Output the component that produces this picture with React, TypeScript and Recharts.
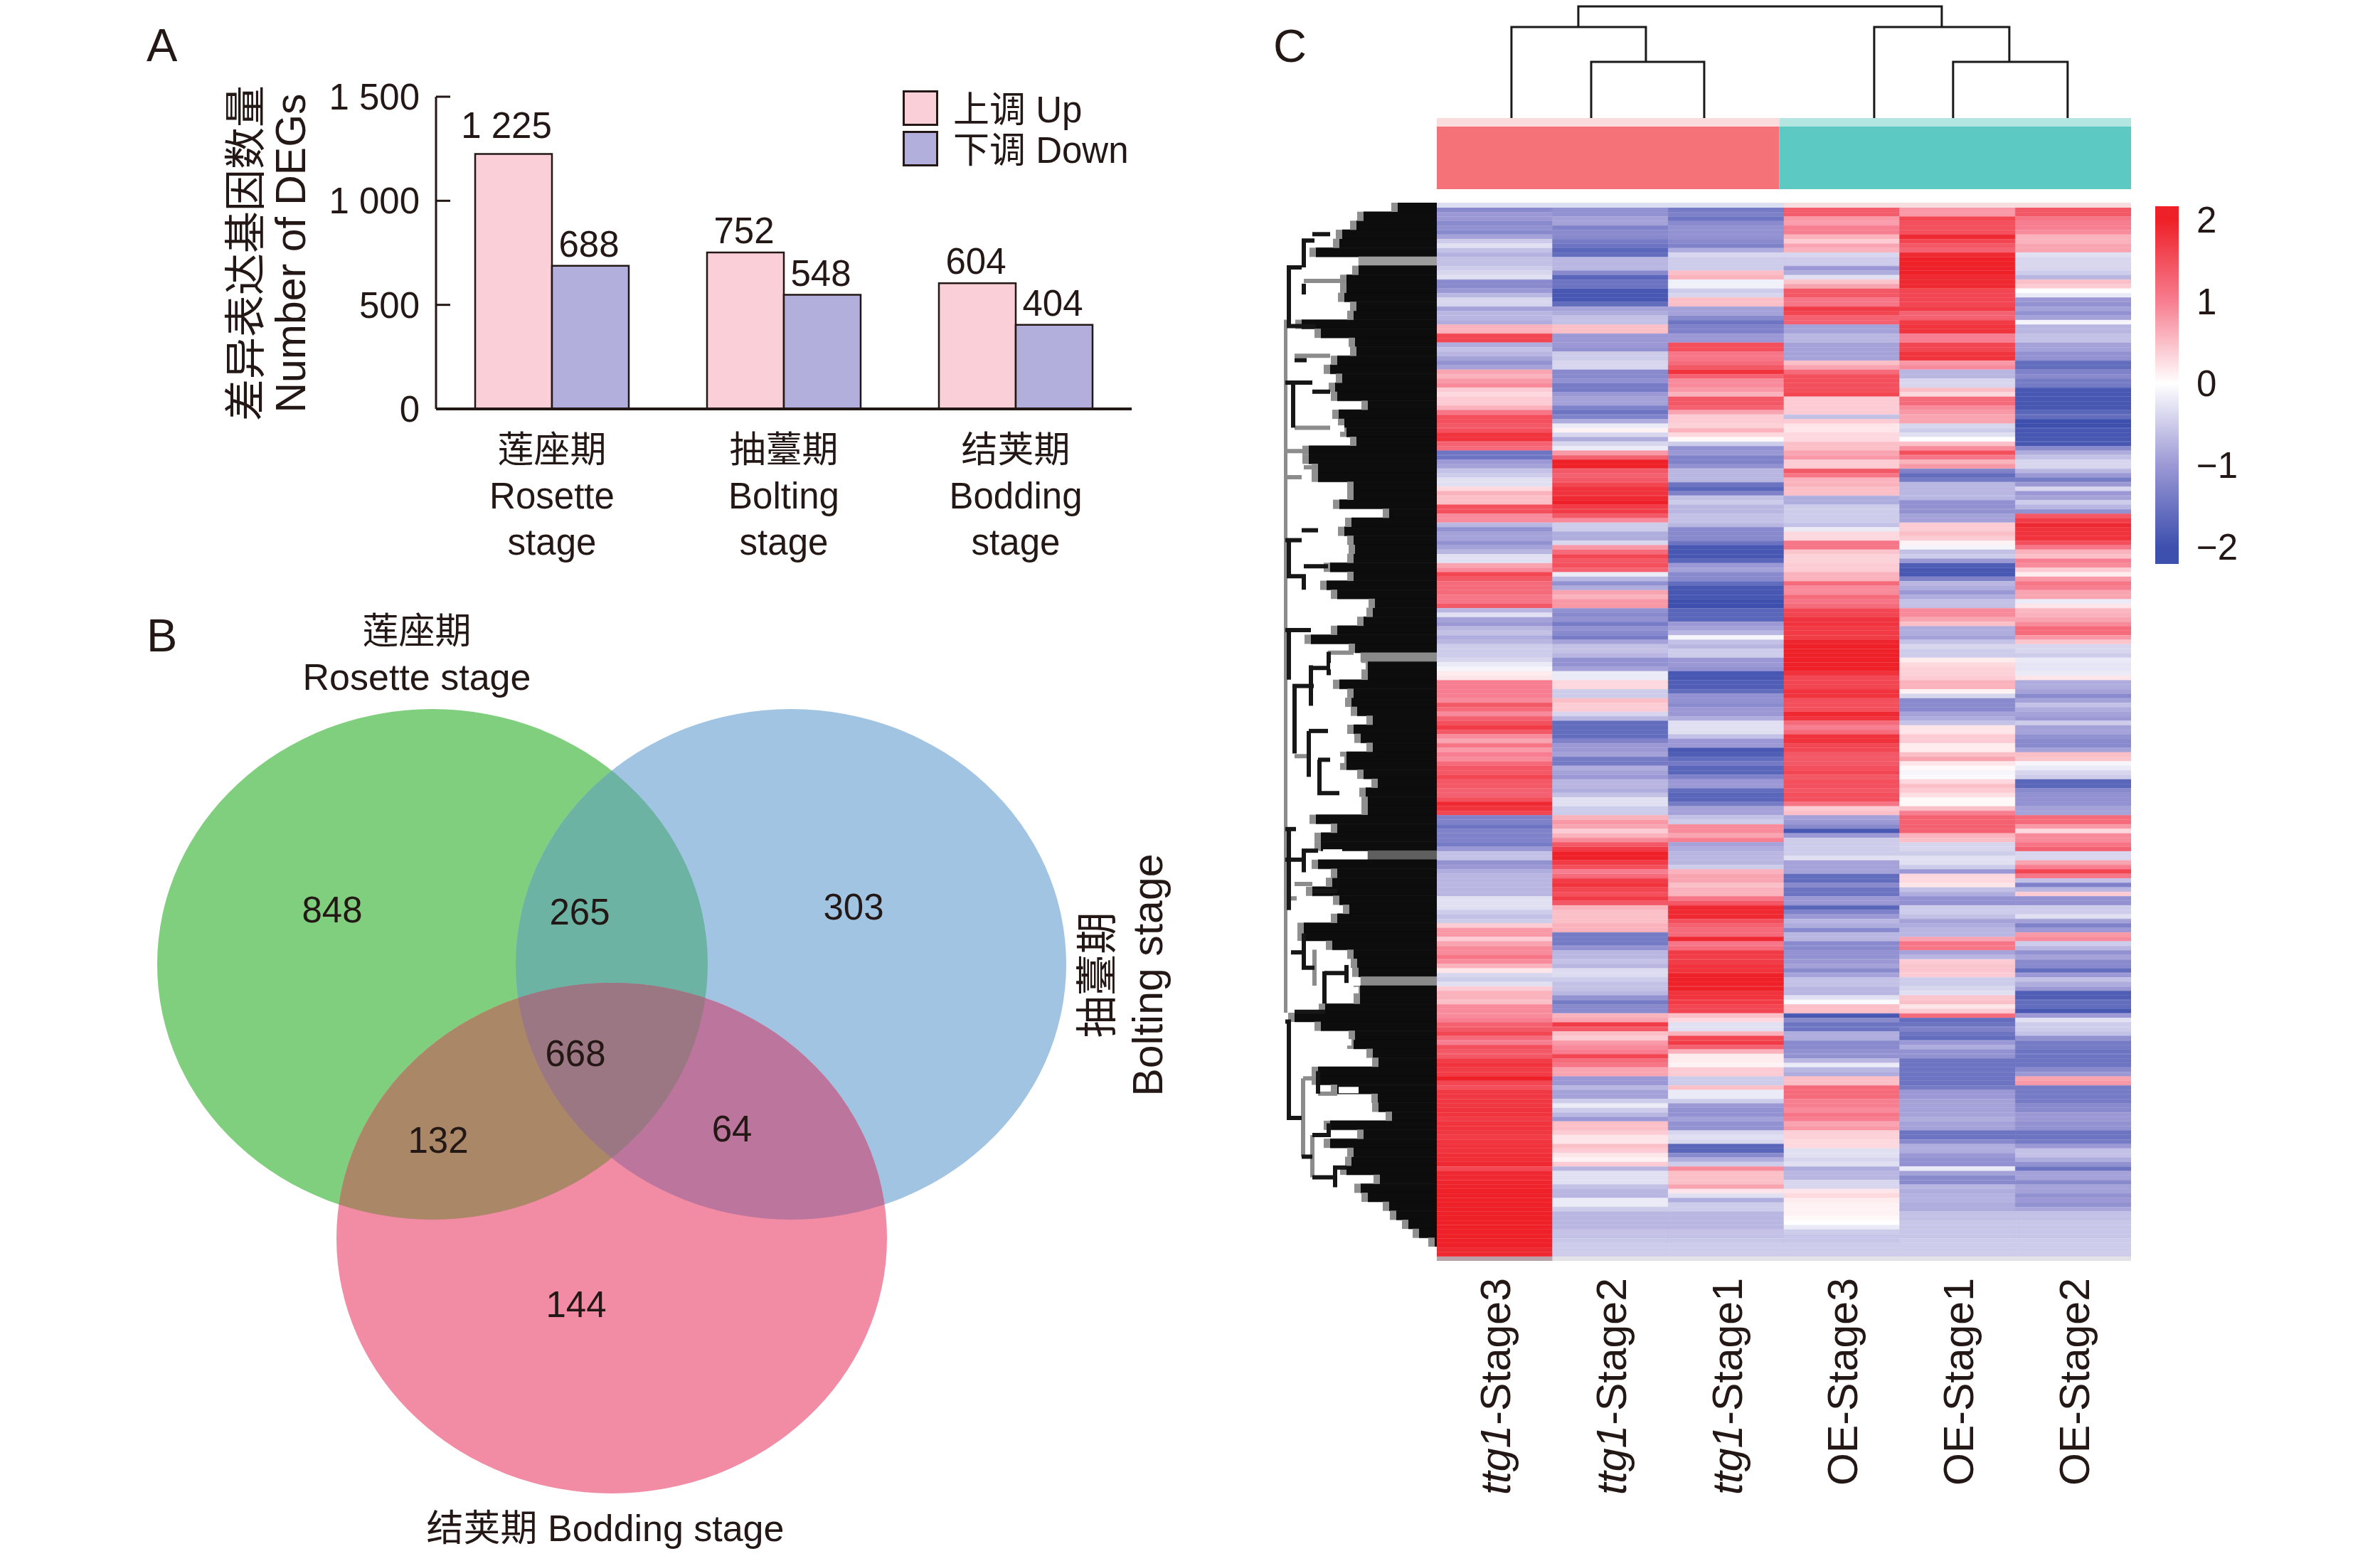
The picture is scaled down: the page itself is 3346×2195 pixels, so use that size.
import React from 'react';
import {
  BarChart, Bar, XAxis, YAxis, Cell, LabelList, Legend, ScatterChart, Scatter,
} from 'recharts';

const INK = '#231815';
const FONT = "'Liberation Sans','Noto Sans CJK SC',sans-serif";

// ---------- Panel A ----------
const stageCN = ['莲座期', '抽薹期', '结荚期'];
const stageEN = ['Rosette', 'Bolting', 'Bodding'];
const upValues = [1225, 752, 604];
const downValues = [688, 548, 404];
const yTicksA = [0, 500, 1000, 1500];
const legendNames = ['上调 Up', '下调 Down'];

// ---------- Panel B ----------
const vennSets = [
  { name: 'Rosette', x: 608, y: 506, fill: '#80CF7E' },
  { name: 'Bolting', x: 1112, y: 506, fill: '#A0C4E2' },
  { name: 'Bodding', x: 860, y: 891, fill: '#F18CA4' },
];
const vennOverlaps = [
  { x: 1112, y: 506, clips: [0], fill: '#6DB3A4' },
  { x: 860, y: 891, clips: [0], fill: '#AA8767' },
  { x: 860, y: 891, clips: [1], fill: '#BC759C' },
  { x: 860, y: 891, clips: [0, 1], fill: '#9A7782' },
];
const vennCounts = [
  { x: 467, y: 429, n: 848 },
  { x: 815, y: 432, n: 265 },
  { x: 1200, y: 425, n: 303 },
  { x: 809, y: 631, n: 668 },
  { x: 616, y: 753, n: 132 },
  { x: 1029, y: 737, n: 64 },
  { x: 810, y: 984, n: 144 },
];

// ---------- Panel C: column tree ----------
const colTree = [
  [{ x: 0.645, h: 0 }, { x: 0.645, h: 128 }, { x: 1.807, h: 128 }, { x: 1.807, h: 79 }],
  [{ x: 1.334, h: 0 }, { x: 1.334, h: 79 }, { x: 2.311, h: 79 }, { x: 2.311, h: 0 }],
  [{ x: 3.78, h: 0 }, { x: 3.78, h: 128 }, { x: 4.948, h: 128 }, { x: 4.948, h: 79 }],
  [{ x: 4.462, h: 0 }, { x: 4.462, h: 79 }, { x: 5.452, h: 79 }, { x: 5.452, h: 0 }],
  [{ x: 1.223, h: 128 }, { x: 1.223, h: 157 }, { x: 4.364, h: 157 }, { x: 4.364, h: 128 }],
];

// ---------- Panel C: row tree ----------
const rowDepth = [
  55, 103, 113, 133, 137, 170, 110, 110, 127, 127, 130, 113, 117, 190, 163, 115, 113, 140, 150, 133,
  143, 140, 97, 138, 130, 127, 113, 180, 180, 167, 167, 117, 117, 137, 67, 120, 130, 117, 115, 117,
  150, 117, 155, 140, 87, 90, 103, 140, 177, 115, 107, 97, 97, 137, 117, 120, 112, 90, 117, 107,
  90, 127, 127, 103, 83, 100, 97, 97, 170, 140, 163, 163, 97, 167, 140, 147, 175, 137, 123, 140,
  187, 187, 147, 117, 112, 110, 107, 108, 108, 157, 200, 163, 115, 117, 90, 82, 167, 167, 140, 83,
  82, 63, 150, 103, 150, 117, 120, 127, 80, 107, 97, 67, 57, 40, 25, 3,
];
const greyRows = [6, 50, 72, 86];
const greyTone = ['#9c9c9c', '#8a8a8a', '#5f5f5f', '#8a8a8a'];
const treeGrey = [
  [[213, 13], [213, 90]],
  [[210, 27.6], [180, 27.6]],
  [[210, 30.5], [190, 30.5]],
  [[187, 8.7], [127, 8.7]],
  [[200, 25], [150, 25]],
  [[200, 17], [150, 17]],
  [[153, 50], [117, 50]],
  [[200, 61.5], [183, 61.5]],
  [[200, 75.7], [175, 75.7]],
  [[172, 83], [172, 87]],
  [[188, 97.3], [188, 106]],
  [[188, 97.3], [167, 97.3]],
  [[167, 99], [140, 99]],
  [[175, 103.6], [175, 108.3]],
  [[213, 77.3], [197, 77.3]],
  [[187, 29.4], [167, 29.4]],
];
const treeDark = [
  [[190, 7.2], [208, 7.2], [208, 13.7], [170, 13.7]],
  [[187, 7.2], [187, 4.2], [172, 4.2]],
  [[175, 3.5], [150, 3.5]],
  [[187, 9], [187, 10.2]],
  [[202, 20.2], [202, 25]],
  [[213, 20], [175, 20]],
  [[200, 17.5], [183, 17.5]],
  [[175, 21], [150, 21]],
  [[190, 36.4], [167, 36.4]],
  [[213, 37.5], [190, 37.5]],
  [[208, 37.5], [208, 41.5], [187, 41.5], [187, 43]],
  [[187, 40.4], [153, 40.4]],
  [[213, 47.5], [177, 47.5]],
  [[208, 47.5], [208, 53]],
  [[203, 53.7], [173, 53.7]],
  [[200, 53.9], [200, 61.2]],
  [[177, 51.4], [177, 55.9]],
  [[175, 51.7], [153, 51.7]],
  [[152, 49.9], [152, 52.5]],
  [[180, 58.7], [180, 63.8]],
  [[180, 58.7], [153, 58.7]],
  [[167, 61.9], [150, 61.9]],
  [[165, 61.9], [165, 65.6], [137, 65.6]],
  [[213, 69.6], [198, 69.6]],
  [[208, 69.6], [208, 78.6]],
  [[213, 73], [187, 73]],
  [[190, 72], [167, 72]],
  [[187, 72], [187, 74.4]],
  [[175, 76.5], [140, 76.5]],
  [[205, 83.3], [187, 83.3]],
  [[187, 81.2], [187, 85], [172, 85]],
  [[158, 85.4], [158, 89]],
  [[158, 85.6], [127, 85.6]],
  [[127, 84.7], [127, 86.7]],
  [[200, 89.9], [157, 89.9]],
  [[213, 91], [208, 91], [208, 101.7], [190, 101.7]],
  [[167, 96.5], [167, 99]],
  [[190, 106], [175, 106]],
  [[175, 103.6], [152, 103.6], [152, 102.3]],
  [[175, 108.3], [143, 108.3], [143, 107.2], [127, 107.2]],
  [[143, 107.2], [143, 109.4]],
];
const treeHoles = [
  [[170, 4.5], [153, 4.5]],
  [[170, 20], [153, 20]],
  [[147, 25.1], [130, 25.1]],
  [[150, 51.5], [100, 51.5]],
  [[148, 61.9], [130, 61.9]],
  [[160, 72.2], [133, 72.2]],
  [[155, 87.5], [110, 87.5]],
  [[145, 93.3], [120, 93.3]],
  [[138, 98.6], [110, 98.6]],
  [[140, 108.7], [120, 108.7]],
];

// ---------- Panel C: heat map values ----------
const heatLabels = ['ttg1|-Stage3', 'ttg1|-Stage2', 'ttg1|-Stage1', '|OE-Stage3', '|OE-Stage1', '|OE-Stage2'];
const c1a = [-1.2,-1.0,-1.0,-1.2,-1.1,-1.2,-0.9,-0.5,-0.3,-0.6,-0.75,-0.6,-0.6,-0.5,-0.4,-0.3,-1.2,-1.2,-1.0,-0.7,-0.4,-0.4,-0.9,-0.7,-0.7,-0.8,0.6,0.6,1.6,1.6,-0.8,-0.6,-0.7,-0.9,-1.1,-0.9,0.7,0.6,0.8,0.9,0.4,0.3,0.4,0.4,0.6,1.1,1.5,1.5,1.4,1.5,1.8,1.8,1.3,1.2,-1.5,-1.5,-1.0,-0.9,-0.6,-0.5,-0.3,-0.3,0.3,0.6,0.5,0.5,1.5,1.5,0.9,0.9,-0.7,-1.1,-0.9,-0.9,-1.1,-0.9];
const c1b = [-0.7,-0.3,-0.3,0.7,0.9,1.6,1.4,1.2,1.2,1.2,1.1,1.1,1.4,-0.7,-0.3,-0.9,-1.0,-0.7,-0.6,-0.8,-0.7,-0.5,-0.5,-0.5,-0.4,-0.2,-0.1,0.15,0.2,1.0,1.0,1.0,1.0,0.9,1.4,1.2,0.9,1.3,1.5,1.7,1.4,0.9,0.7,1.1,0.8,1.0,0.9,1.2,1.4,1.4,1.6,1.4,1.4,1.3,1.3,1.5,1.9,1.8,1.6,-1.3,-1.3,-1.5,-1.3,-1.3,-1.3,-1.4,-1.0,-0.6,-0.6,-1.1,-1.0,-0.8,-0.7,-0.7,-0.7,-0.7,-0.7,-0.3,-0.3];
const c1c = [-0.3,-0.5,-0.6,-0.5,0.4,0.8,0.8,0.4,0.7,0.9,0.9,1.1,0.9,0.6,0.2,-0.4,-0.5,-0.3,0.4,0.6,0.6,0.5,0.9,0.9,0.9,1.0,1.3,1.4,1.6,1.2,1.0,1.5,1.4,1.4,1.7,1.8,1.7,1.7,2.0,1.6,1.5,1.75,1.75,1.75,1.75,1.8,1.8,1.7,1.8,1.8,1.75,1.7,1.8,1.8,1.8,1.85,1.85,1.9,1.6,1.9,1.9,1.95,1.95,2,2,2,2,2,2,2,2,2,2,2,2,2,1.9,1.9];
const c2a = [-1.1,-1.1,-0.9,-0.9,-1.3,-1.2,-1.2,-1.4,-1.5,-1.7,-1.6,-0.7,-0.7,-0.7,-1.2,-1.7,-1.5,-1.5,-1.9,-1.9,-1.9,-1.6,-0.9,-0.8,-0.6,-0.6,0.5,0.5,-1.0,-1.0,-1.0,-1.1,-0.5,-0.5,-0.4,-0.4,-1.2,-1.2,-1.1,-1.4,-1.4,-1.0,-0.9,-0.9,-1.3,-1.5,-1.3,-0.8,-0.2,0.1,-0.4,-0.8,-0.4,-0.2,0.8,1.3,2.0,2.0,1.4,1.3,1.4,1.6,1.8,1.8,1.9,2.0,1.7,1.7,1.4,0.9,-0.5,-0.5,-0.8,-0.8,-0.4,0.8];
const c2b = [1.2,1.6,1.4,1.5,1.3,-0.2,-0.7,-1.1,-0.8,0.7,0.6,0.8,0.8,-1.1,-1.2,-1.1,-1.4,-1.1,-1.2,-1.4,-0.9,-0.6,-0.6,-0.7,-1.1,-1.1,-0.9,-0.2,-0.2,0.3,0.3,-0.5,-0.5,0.5,0.4,0.4,-0.4,-0.7,-1.6,-1.6,-1.6,-1.6,-1.3,-1.0,-1.0,-0.9,-1.4,-1.4,-0.8,-0.9,-1.0,-0.7,-0.7,-0.8,-0.6,-0.3,-0.3,-0.5,-0.5,0.6,0.8,0.7,0.4,0.6,0.9,1.4,1.7,2.0,2.0,1.7,1.5,1.0,1.2,1.7,1.8,1.6,1.5,1.7,1.4];
const c2c = [0.6,0.5,0.5,0.5,0.6,0.6,-1.4,-1.4,-1.4,-1.1,-0.7,-0.7,-0.6,-0.7,-0.35,-0.35,-0.5,-0.6,-0.6,-0.7,-1.1,-1.4,-1.2,-1.2,0.6,0.7,1.7,1.4,0.5,0.4,0.8,0.9,1.0,1.6,1.2,1.1,0.7,0.7,-1.0,-1.0,-0.7,-0.9,-0.9,-0.5,-0.2,-0.5,-0.7,-1.0,0.5,0.5,0.4,0.2,0.2,0.5,0.4,0.2,0.1,0.4,-0.7,-0.3,-0.3,-0.3,-0.6,-0.7,-0.7,-0.2,-0.2,-0.5,-0.7,-0.7,-0.7,-0.7,-0.6,-0.6,-0.55,-0.5,-0.5,-0.5];
const c3a = [-1.4,-1.3,-1.5,-1.2,-1.1,-1.1,-1.1,-1.2,-1.3,-0.8,-0.4,-0.5,-0.5,-0.5,0.5,0.6,-0.15,-0.15,-0.5,-0.4,0.5,0.5,-0.9,-0.9,-1.2,-1.5,-1.3,-1.3,-1.0,-1.0,1.5,1.5,1.1,1.1,1.2,1.4,1.8,1.3,0.9,0.9,0.8,0.6,1.4,1.4,1.3,0.7,0.4,0.4,0.35,0.6,0.3,0.05,-0.5,-1.1,-1.0,-1.3,-1.3,-1.1,-0.7,-0.7,-0.7,-1.5,-1.7,-1.3,-0.6,-0.5,-0.7,-0.7,-0.6,-0.6,-0.7,-1.2,-1.2,-1.2,-1.5,-1.9];
const c3b = [-1.9,-1.9,-1.7,-1.0,-0.9,-1.2,-1.2,-1.6,-1.9,-1.9,-1.9,-2.0,-2.0,-1.7,-1.7,-1.7,-1.0,-0.9,-0.7,-0.1,-0.6,-0.7,-0.5,-0.5,-1.0,-1.0,-1.1,-1.9,-1.9,-1.8,-1.8,-1.6,-1.1,-1.1,-1.2,-1.0,-1.0,-0.8,-0.3,-0.3,-0.3,-0.6,-1.0,-1.0,-1.9,-1.8,-1.6,-1.4,-1.7,-1.7,-1.3,-1.0,-1.0,-1.6,-1.7,-1.7,-1.4,-0.9,-0.9,-0.6,-0.5,0.9,0.9,0.7,1.0,-0.9,-0.8,-0.7,-0.7,-0.7,-0.5,0.6,0.7,0.7,0.5,0.6,0.6,1.1,1.4];
const c3c = [1.9,1.9,1.9,1.5,1.3,1.2,1.2,1.9,1.1,1.2,1.7,1.7,1.7,1.8,1.8,2,2,2,2,1.8,1.8,1.7,1.6,1.6,0.5,0.3,-0.3,-0.3,0.6,1.6,1.7,1.3,0.6,0.15,0.15,0.1,0.4,0.4,-0.5,-0.5,0.5,-0.2,-0.2,-0.5,-1.0,-1.1,-1.1,-0.9,-1.1,-1.1,-0.4,-0.3,-0.4,-1.7,-1.7,-1.2,-0.8,-0.5,0.9,0.5,0.5,0.5,0.7,0.2,-0.3,-0.8,-0.5,-0.5,-0.7,-0.7,-0.7,-0.7,-0.6,-0.6,-0.55,-0.5,-0.5,-0.5];
const c4a = [1.35,1.35,0.8,0.75,1.0,1.0,0.6,0.4,0.7,0.6,-0.4,-0.5,-0.5,-1.0,-0.8,-0.3,0.45,0.7,1.4,1.4,1.1,1.1,1.7,1.6,1.3,1.3,-0.9,-0.9,-0.7,-0.7,-0.9,-0.9,-0.9,-0.9,0.5,0.7,1.2,1.5,1.5,1.5,1.5,1.6,0.4,0.4,0.4,0.4,-0.6,0.4,0.2,0.2,0.3,0.3,0.5,0.5,0.7,0.8,0.4,0.4,1.4,1.1,0.6,0.6,0.5,0.5,-0.8,-0.8,-0.5,-0.5,-0.5,-0.5,-0.6,-0.2,0.3,0.3,1.1,1.1];
const c4b = [0.45,0.35,0.35,0.4,0.4,0.6,0.6,1.2,0.9,0.9,1.2,1.1,1.2,1.6,1.6,1.8,1.8,1.7,1.7,1.7,1.95,2,2,2,2,2,2,1.8,1.6,1.6,1.6,1.8,1.8,1.5,1.5,1.5,1.9,1.8,1.2,1.0,1.2,1.8,1.8,1.6,1.6,1.4,1.4,1.4,1.5,1.6,1.4,1.5,1.5,1.4,1.5,1.5,1.1,0.4,0.5,-0.9,-1.0,-1.2,-1.9,-1.0,-0.5,-0.5,-0.5,-0.5,-0.3,-0.9,-0.9,-0.9,-1.6,-1.6,-1.2,-1.5,-1.5,-1.0,-1.0];
const c4c = [-1.7,-1.3,-1.0,-0.7,-0.8,-1.2,-0.7,-0.7,-1.2,-1.2,-1.1,-1.1,-1.0,-0.9,-1.2,-0.9,-0.6,-0.6,-0.7,-0.7,-0.3,-0.05,0.5,0.5,-1.9,-1.2,-1.5,-1.5,-0.8,-0.8,-1.2,-1.2,-1.1,-1.1,-0.7,-0.2,-0.7,-0.8,0.5,0.5,1.2,1.2,1.2,1.0,1.0,0.9,1.1,1.0,0.7,0.8,0.35,0.35,0.3,0.3,-0.3,-0.3,-0.4,-0.3,-0.8,-0.7,-0.7,-0.4,-0.4,0.2,0.3,0.15,0.1,0.1,0.1,0.05,0,-0.2,-0.5,-0.55,-0.55,-0.5,-0.5,-0.5];
const c5a = [0.8,0.8,1.6,1.5,1.5,1.5,1.9,1.6,1.4,1.3,1.9,2,2,2,2,1.9,1.9,1.9,1.6,1.6,1.6,1.6,1.7,1.3,1.3,1.7,1.8,1.8,1.0,1.0,1.6,1.6,1.8,1.8,0.8,0.9,-0.7,-0.7,-0.4,-0.4,0.5,0.3,1.2,1.2,0.9,0.8,0.7,0.7,-0.4,-0.5,-0.3,0,0.5,0.9,1.5,1.1,0.6,0.8,-1.3,-1.6,-1.4,-0.7,-0.7,-0.7,-0.7,-1.1,-1.1,-1.1,-0.9,-0.9,0.4,0.4,0.5,0.4,0.1,-0.1];
const c5b = [-0.6,-0.5,-1.0,-1.8,-1.9,-1.9,-1.3,-0.7,-0.8,-1.0,-0.8,-0.6,-0.6,0.9,0.9,0.7,0.5,-0.8,-0.8,-0.9,-0.6,-0.4,-0.5,-0.5,0.15,0.3,0.35,0.35,0.4,0.6,0.6,0.1,-0.4,-1.2,-1.2,-1.2,-0.9,-0.8,-0.6,0.2,0.2,0.4,0.4,0.15,0.15,0.5,0.7,0.2,0.05,-0.1,-0.05,0.3,0.5,0.4,0.25,0.05,0.05,0.5,1.0,1.3,1.3,1.3,1.3,0.6,0.5,-0.4,-0.4,-0.5,-0.3,-0.3,-0.5,-1.0,0.3,0.3,0.2,-0.6,-0.8,-1.1,-1.1];
const c5c = [-0.5,-0.5,-0.6,-0.9,-0.8,-0.7,-0.7,0.7,1.1,1.1,-0.9,-0.7,0.4,0.45,0.45,0.4,-0.5,-0.5,-0.4,-0.3,0.45,0.5,0.2,0.4,1.2,-1.6,-1.5,-1.3,-1.5,-1.6,-1.0,-0.8,-1.1,-1.1,-1.5,-1.5,-1.5,-1.5,-1.5,-1.5,-1.4,-1.0,-1.0,-0.9,-0.9,-0.9,-0.9,-0.8,-0.9,-0.9,-1.5,-1.5,-1.2,-0.8,-0.8,-1.0,-1.1,-1.1,-0.2,-0.9,-1.2,-1.2,-0.7,-0.8,-0.75,-0.75,-0.8,-0.8,-0.6,-0.6,-0.55,-0.55,-0.55,-0.55,-0.5,-0.5,-0.5,-0.5];
const c6a = [1.4,1.4,1.1,1.0,1.0,0.9,0.6,0.6,0.7,0.7,-0.3,-0.4,-0.4,-0.4,-0.5,-0.7,0.5,0.4,0,-0.2,-1.0,-1.1,-0.9,-1.1,-0.9,-0.1,-0.7,-0.7,-0.6,-0.6,-0.9,-0.9,-1.1,-1.1,-1.6,-1.6,-1.3,-1.2,-1.4,-1.4,-1.9,-1.9,-1.9,-1.9,-1.9,-1.7,-1.6,-2.0,-2.0,-1.9,-1.9,-1.9,-1.9,-1.2,-0.8,-0.6,-0.4,-0.4,-0.7,-1.0,-1.4,-1.0,-0.4,-1.0,-0.9,-0.5,-0.7,-1.1,1.4,1.7,1.9,1.8,1.8,1.8,1.5,1.1];
const c6b = [0.6,0.5,1.0,0.9,0.4,0.15,0.8,1.1,1.0,0.7,0.7,-0.2,0.2,0.55,0.6,0.7,0.9,1.2,1.2,0.8,0.45,-0.4,-0.4,-0.5,-0.2,-0.25,-0.25,-0.2,0.2,-0.8,-0.8,-0.9,-1.2,-0.9,-0.6,-0.8,-0.9,-1.0,-0.5,-0.9,-0.9,-1.1,-1.2,-1.2,-0.9,0.5,0.45,-0.1,-0.2,-0.4,-0.5,-1.7,-1.7,-1.2,-1.1,-1.1,-1.1,-0.9,-0.9,1.2,1.2,0.8,0.3,0.9,0.9,1.1,1.3,-0.4,-0.4,0.7,1.0,1.6,1.1,-0.6,-1.3,-0.7,0.4,-1.1,-1.1];
const c6c = [-0.5,-0.5,-0.3,-0.9,-1.3,-1.0,0.8,0.9,-0.5,-0.7,-1.1,-0.9,-1.2,-1.2,-1.6,-1.0,-0.6,-0.8,-1.0,-1.8,-1.8,-1.6,-1.6,-1.9,-1.0,-0.3,-0.5,-0.5,-0.6,-1.1,-1.4,-1.4,-1.5,-1.5,-1.5,-1.5,-1.2,-1.0,0.7,0.8,-1.4,-1.4,-1.4,-1.4,-1.2,-1.2,-1.0,-1.0,-1.1,-1.1,-1.5,-1.5,-1.4,-1.0,-0.6,-0.6,-0.8,-1.1,-1.5,-0.9,-0.9,-1.2,-0.9,-0.9,-1.1,-1.0,-1.1,-0.85,-0.6,-0.6,-0.55,-0.55,-0.55,-0.55,-0.5,-0.5,-0.5,-0.5];

const heatSections = [
  [c1a, c1b, c1c], [c2a, c2b, c2c], [c3a, c3b, c3c],
  [c4a, c4b, c4c], [c5a, c5b, c5c], [c6a, c6b, c6c],
];
const sectionRows = [76, 79, 78];

const fit = (arr: number[], n: number) =>
  Array.from({ length: n }, (_, i) => (i < arr.length ? arr[i] : arr[arr.length - 1]));
const heatColumns = heatSections.map((secs) => secs.flatMap((s, i) => fit(s, sectionRows[i])));
const heatRows = heatColumns[0].map((_, r) => {
  const row: any = { row: r };
  heatColumns.forEach((col, c) => {
    row['v' + c] = col[r];
    row['u' + c] = 1;
  });
  return row;
});

const scaleStops: [number, number[]][] = [
  [-2, [62, 80, 174]], [-1, [155, 152, 213]], [0, [255, 255, 255]], [1, [247, 126, 144]], [2, [238, 32, 40]],
];
const heatColor = (v: number) => {
  const x = Math.max(-2, Math.min(2, v));
  for (let i = 0; i < scaleStops.length - 1; i++) {
    const [a, ca] = scaleStops[i];
    const [b, cb] = scaleStops[i + 1];
    if (x <= b) {
      const t = (x - a) / (b - a);
      const m = ca.map((q, j) => Math.round(q + (cb[j] - q) * t));
      return `rgb(${m[0]},${m[1]},${m[2]})`;
    }
  }
  return 'rgb(238,32,40)';
};

const abs = (left: number, top: number): React.CSSProperties => ({ position: 'absolute', left, top });

// ---------- A renderers ----------
const dataA = stageEN.map((s, i) => ({ stage: s, up: upValues[i], down: downValues[i] }));
const fmtThousands = (v: number) =>
  v >= 1000 ? `${Math.floor(v / 1000)} ${String(v % 1000).padStart(3, '0')}` : String(v);

const StageTick = (p: any) => {
  const i = p.index;
  return (
    <g fontFamily={FONT} fontSize={51} fill={INK} textAnchor="middle">
      <text x={p.x} y={p.y + 75}>{stageCN[i]}</text>
      <text x={p.x} y={p.y + 140}>{stageEN[i]}</text>
      <text x={p.x} y={p.y + 205}>stage</text>
    </g>
  );
};
const ValueLabel = (p: any) => {
  const big = p.value >= 1000;
  return (
    <text
      x={p.x + p.width / 2 + (big ? -10 : -2)}
      y={p.y - (big ? 22 : 13)}
      textAnchor="middle"
      fontFamily={FONT}
      fontSize={51}
      fill={INK}
    >
      {fmtThousands(p.value)}
    </text>
  );
};
const LegendBox = (p: any) => (
  <div style={{ fontFamily: FONT, fontSize: 51, color: INK }}>
    {(p.payload || []).map((e: any, i: number) => (
      <div key={i} style={{ display: 'flex', alignItems: 'center', height: 57, whiteSpace: 'nowrap' }}>
        <span
          style={{
            display: 'inline-block', width: 50, height: 50, boxSizing: 'border-box',
            border: `3px solid ${INK}`, background: e.color, marginRight: 21,
          }}
        />
        <span style={{ position: 'relative', top: -2 }}>{e.value}</span>
      </div>
    ))}
  </div>
);

const PanelA = () => (
  <div style={abs(0, 0)}>
    <BarChart
      width={1700}
      height={850}
      data={dataA}
      barCategoryGap={55}
      barGap={0}
      margin={{ top: 136, right: 109, bottom: 55, left: 473 }}
    >
      <XAxis
        dataKey="stage"
        height={220}
        tick={<StageTick />}
        tickLine={false}
        tickSize={0}
        tickMargin={0}
        interval={0}
        axisLine={{ stroke: INK, strokeWidth: 4 }}
      />
      <YAxis
        type="number"
        width={140}
        domain={[0, 1500]}
        ticks={yTicksA}
        tickFormatter={fmtThousands}
        tickSize={-20}
        tickMargin={43}
        tick={{ fontFamily: FONT, fontSize: 51, fill: INK }}
        tickLine={{ stroke: INK, strokeWidth: 3 }}
        axisLine={{ stroke: INK, strokeWidth: 3 }}
      />
      <Legend
        layout="horizontal"
        align="center"
        verticalAlign="middle"
        content={<LegendBox />}
        wrapperStyle={{ left: 1269, top: 123, width: 420, bottom: 'auto' }}
      />
      <Bar dataKey="up" name={legendNames[0]} fill="#FBCFD8" stroke={INK} strokeWidth={2.5} isAnimationActive={false}>
        <LabelList dataKey="up" content={<ValueLabel />} />
      </Bar>
      <Bar dataKey="down" name={legendNames[1]} fill="#B3AFDD" stroke={INK} strokeWidth={2.5} isAnimationActive={false}>
        <LabelList dataKey="down" content={<ValueLabel />} />
      </Bar>
    </BarChart>
  </div>
);

// ---------- B renderers ----------
const RX = 387;
const RY = 359;
const SetShape = (p: any) => <ellipse cx={p.cx} cy={p.cy} rx={RX} ry={RY} fill={p.payload.fill} />;
const OverlapShape = (p: any) => {
  const { clips, fill, x, y } = p.payload;
  let node: any = <ellipse cx={p.cx} cy={p.cy} rx={RX} ry={RY} fill={fill} />;
  const id = `clip-${x}-${y}-${clips.join('')}`;
  clips.forEach((c: number, i: number) => {
    const s = vennSets[c];
    node = (
      <g clipPath={`url(#${id}-${i})`}>
        <clipPath id={`${id}-${i}`}>
          <ellipse cx={p.cx + s.x - x} cy={p.cy + s.y - y} rx={RX} ry={RY} />
        </clipPath>
        {node}
      </g>
    );
  });
  return node;
};
const CountShape = (p: any) => (
  <text x={p.cx} y={p.cy + 18} textAnchor="middle" fontFamily={FONT} fontSize={51} fill={INK}>
    {p.payload.n}
  </text>
);

const PanelB = () => (
  <div style={abs(0, 850)}>
    <ScatterChart width={1700} height={1345} margin={{ top: 0, right: 0, bottom: 0, left: 0 }}>
      <XAxis type="number" dataKey="x" domain={[0, 1700]} hide />
      <YAxis type="number" dataKey="y" domain={[0, 1345]} reversed hide />
      <Scatter data={vennSets} shape={<SetShape />} isAnimationActive={false} />
      <Scatter data={vennOverlaps} shape={<OverlapShape />} isAnimationActive={false} />
      <Scatter data={vennCounts} shape={<CountShape />} isAnimationActive={false} />
    </ScatterChart>
  </div>
);

// ---------- C renderers ----------
const Band = ({ top, height, left, right, split }: any) => (
  <div style={abs(2020, top)}>
    <BarChart
      width={976}
      height={height}
      data={[{ band: 'b', a: split, c: 6 - split }]}
      layout="vertical"
      barCategoryGap={0}
      margin={{ top: 0, right: 0, bottom: 0, left: 0 }}
    >
      <XAxis type="number" domain={[0, 6]} hide />
      <YAxis type="category" dataKey="band" hide />
      <Bar dataKey="a" stackId="s" fill={left} isAnimationActive={false} />
      <Bar dataKey="c" stackId="s" fill={right} isAnimationActive={false} />
    </BarChart>
  </div>
);

const None = () => <g />;

const ColTree = () => (
  <div style={abs(2020, 4)}>
    <ScatterChart width={976} height={167} margin={{ top: 5, right: 0, bottom: 5, left: 0 }}>
      <XAxis type="number" dataKey="x" domain={[0, 6]} hide />
      <YAxis type="number" dataKey="h" domain={[0, 157]} hide />
      {colTree.map((seg, i) => (
        <Scatter
          key={i}
          data={seg}
          line={{ stroke: '#1a1a1a', strokeWidth: 3 }}
          lineType="joint"
          shape={<None />}
          isAnimationActive={false}
        />
      ))}
    </ScatterChart>
  </div>
);

const depthRows = rowDepth.map((d, k) => ({ k, d, fringe: greyRows.includes(k) ? 0 : 9 }));
const toPts = (seg: number[][]) => seg.map(([d, k]) => ({ d, k }));
const treeLayers = [
  { segs: treeGrey, stroke: '#8c8c8c', w: 6 },
  { segs: treeDark, stroke: '#161616', w: 6 },
  { segs: treeHoles, stroke: '#ffffff', w: 9 },
];

const RowTree = () => (
  <>
    <div style={abs(1805, 285)}>
      <BarChart
        width={215}
        height={1468}
        data={depthRows}
        layout="vertical"
        barCategoryGap={0}
        margin={{ top: 0, right: 0, bottom: 0, left: 0 }}
      >
        <XAxis type="number" domain={[0, 215]} reversed hide />
        <YAxis type="category" dataKey="k" hide />
        <Bar dataKey="d" stackId="t" isAnimationActive={false}>
          {depthRows.map((r) => {
            const g = greyRows.indexOf(r.k);
            const c = g >= 0 ? greyTone[g] : '#0d0d0d';
            return <Cell key={r.k} fill={c} stroke={c} strokeWidth={0.5} />;
          })}
        </Bar>
        <Bar dataKey="fringe" stackId="t" fill="#8f8f8f" isAnimationActive={false} />
      </BarChart>
    </div>
    <div style={abs(1805, 285)}>
      <ScatterChart width={215} height={1468} margin={{ top: 0, right: 0, bottom: 0, left: 0 }}>
        <XAxis type="number" dataKey="d" domain={[0, 215]} reversed hide />
        <YAxis type="number" dataKey="k" domain={[0, 116]} reversed hide />
        {treeLayers.flatMap((layer, li) =>
          layer.segs.map((seg, i) => (
            <Scatter
              key={`${li}-${i}`}
              data={toPts(seg)}
              line={{ stroke: layer.stroke, strokeWidth: layer.w }}
              lineType="joint"
              shape={<None />}
              isAnimationActive={false}
            />
          )),
        )}
      </ScatterChart>
    </div>
  </>
);

const HeatTick = (p: any) => {
  const [it, rest] = heatLabels[p.index].split('|');
  const x = p.x + 22;
  const y = p.y + 30;
  return (
    <text transform={`rotate(-90 ${x} ${y})`} x={x} y={y} textAnchor="end" fontFamily={FONT} fontSize={59} fill={INK}>
      {it ? <tspan fontStyle="italic">{it}</tspan> : null}
      <tspan>{rest}</tspan>
    </text>
  );
};
const colCentres = heatLabels.map((_, i) => i + 0.5);

const Heat = () => (
  <div style={abs(2020, 292)}>
    <BarChart
      width={976}
      height={1840}
      data={heatRows}
      layout="vertical"
      barCategoryGap={0}
      margin={{ top: 0, right: 0, bottom: 0, left: 0 }}
    >
      <XAxis
        type="number"
        domain={[0, 6]}
        ticks={colCentres}
        interval={0}
        height={365}
        tick={<HeatTick />}
        tickLine={false}
        tickSize={0}
        tickMargin={0}
        axisLine={false}
      />
      <YAxis type="category" dataKey="row" hide />
      {heatColumns.map((col, c) => (
        <Bar key={c} dataKey={'u' + c} stackId="h" isAnimationActive={false}>
          {col.map((v, r) => {
            const f = heatColor(v);
            return <Cell key={r} fill={f} stroke={f} strokeWidth={0.6} />;
          })}
        </Bar>
      ))}
    </BarChart>
  </div>
);

const scaleRange = [{ name: 'scale', range: [-2.21, 2.165] }];
const scaleTicks = [2, 1, 0, -1, -2];
const ColorScale = () => (
  <div style={abs(3030, 240)}>
    <BarChart
      width={300}
      height={603}
      data={scaleRange}
      barCategoryGap={0}
      margin={{ top: 50, right: 0, bottom: 50, left: 0 }}
    >
      <defs>
        <linearGradient id="heatScale" x1="0" y1="0" x2="0" y2="1">
          {scaleTicks.map((t) => (
            <stop key={t} offset={(2.165 - t) / 4.375} stopColor={heatColor(t)} />
          ))}
        </linearGradient>
      </defs>
      <XAxis dataKey="name" hide />
      <YAxis
        type="number"
        orientation="right"
        width={267}
        domain={[-2.21, 2.165]}
        allowDataOverflow
        ticks={scaleTicks}
        interval={0}
        tickLine={false}
        axisLine={false}
        tickSize={0}
        tickMargin={25}
        tickFormatter={(v: number) => (v < 0 ? `−${-v}` : String(v))}
        tick={{ fontFamily: FONT, fontSize: 51, fill: INK }}
      />
      <Bar dataKey="range" fill="url(#heatScale)" isAnimationActive={false} />
    </BarChart>
  </div>
);

// ---------- overlay text ----------
const Rot = ({ x, y, size, children }: any) => (
  <text
    transform={`rotate(-90 ${x} ${y})`}
    x={x}
    y={y}
    textAnchor="middle"
    fontFamily={FONT}
    fontSize={size}
    fill={INK}
  >
    {children}
  </text>
);

const Overlay = () => (
  <svg width={3346} height={2195} style={{ ...abs(0, 0), pointerEvents: 'none' }} fontFamily={FONT} fill={INK}>
    <text x={206} y={86} fontSize={65}>A</text>
    <text x={206} y={916} fontSize={65}>B</text>
    <text x={1790} y={87} fontSize={65}>C</text>
    <Rot x={366} y={356} size={59}>差异表达基因数量</Rot>
    <Rot x={429} y={356} size={59}>Number of DEGs</Rot>
    <text x={586} y={905} fontSize={51} textAnchor="middle">莲座期</text>
    <text x={586} y={970} fontSize={52} textAnchor="middle">Rosette stage</text>
    <text x={851} y={2167} fontSize={52} textAnchor="middle">结荚期 Bodding stage</text>
    <Rot x={1563} y={1371} size={59}>抽薹期</Rot>
    <Rot x={1634} y={1371} size={59}>Bolting stage</Rot>
  </svg>
);

export default function App() {
  return (
    <div style={{ position: 'absolute', left: 0, top: 0, width: 3346, height: 2195, background: '#fff', overflow: 'hidden' }}>
      <PanelA />
      <PanelB />
      <ColTree />
      <Band top={166} height={12} left="#FBDCDC" right="#B4E6E1" split={2.96} />
      <Band top={178} height={88} left="#F47278" right="#5CC9C3" split={2.96} />
      <RowTree />
      <Band top={285} height={7} left="#DCDFF1" right="#F7DDDF" split={3} />
      <Heat />
      <Band top={1767} height={6} left="#B9A3AA" right="#E3E2E7" split={1} />
      <ColorScale />
      <Overlay />
    </div>
  );
}
